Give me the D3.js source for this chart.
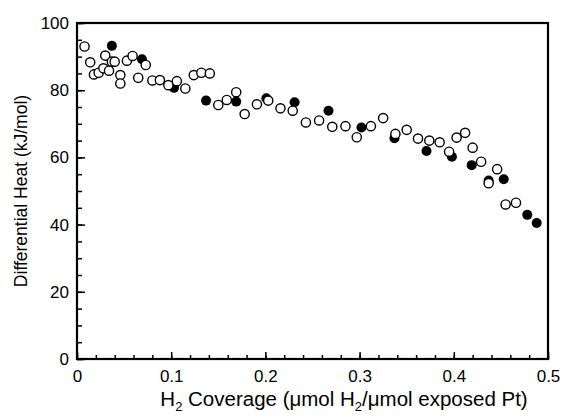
<!DOCTYPE html>
<html>
<head>
<meta charset="utf-8">
<script src="https://cdn.jsdelivr.net/npm/d3@7"></script>
<style>
  html, body { margin: 0; padding: 0; background: #fff; }
  #chart { width: 563px; height: 420px; }
  text { font-family: "Liberation Sans", Arial, sans-serif; fill: #000; }
</style>
</head>
<body>
<div id="chart"></div>
<script>
// Differential heat of H2 adsorption vs coverage — open and filled symbol series.

const openX = [0.008, 0.014, 0.018, 0.023, 0.028, 0.030, 0.034, 0.037, 0.040, 0.046,
               0.046, 0.053, 0.059, 0.065, 0.073, 0.080, 0.088, 0.097, 0.106, 0.115,
               0.124, 0.132, 0.141, 0.150, 0.159, 0.169, 0.178, 0.191, 0.203, 0.216,
               0.229, 0.243, 0.257, 0.271, 0.285, 0.297, 0.312, 0.325, 0.338, 0.350,
               0.362, 0.374, 0.385, 0.395, 0.403, 0.412, 0.420, 0.429, 0.437, 0.446,
               0.455, 0.466];
const openY = [93.0, 88.3, 84.7, 85.2, 86.5, 90.3, 85.8, 88.5, 88.5, 84.5,
               82.0, 88.8, 90.2, 83.7, 87.5, 82.9, 83.0, 81.5, 82.7, 80.5,
               84.5, 85.2, 85.0, 75.6, 77.1, 79.4, 72.9, 75.8, 76.9, 74.6,
               73.9, 70.4, 71.0, 69.1, 69.3, 66.0, 69.3, 71.7, 67.0, 68.2,
               65.6, 65.0, 64.5, 61.7, 65.9, 67.3, 62.9, 58.7, 52.3, 56.5,
               46.0, 46.5];

const filledX = [0.037, 0.069, 0.103, 0.137, 0.169, 0.201, 0.231, 0.267, 0.302,
                 0.337, 0.371, 0.398, 0.419, 0.437, 0.453, 0.478, 0.488];
const filledY = [93.2, 89.2, 80.7, 76.9, 76.6, 77.6, 76.4, 73.9, 68.9,
                 65.7, 61.9, 60.2, 57.7, 53.1, 53.5, 42.9, 40.5];

const xTicks = [0, 0.1, 0.2, 0.3, 0.4, 0.5];
const yTicks = [0, 20, 40, 60, 80, 100];

const W = 563, H = 420;
const margin = { top: 23, right: 15, bottom: 61, left: 77 };
const innerW = W - margin.left - margin.right;
const innerH = H - margin.top - margin.bottom;

const x = d3.scaleLinear().domain([0, 0.5]).range([0, innerW]);
const y = d3.scaleLinear().domain([0, 100]).range([innerH, 0]);

const svg = d3.select("#chart").append("svg")
  .attr("width", W).attr("height", H);

const g = svg.append("g")
  .attr("transform", `translate(${margin.left},${margin.top})`);

// ── Axes (ticks point inward) ──────────────────────────────────────────────

const xMinor = d3.range(0, 0.5001, 0.02);
const yMinor = d3.range(0, 100.01, 5);
const FONT = '"Liberation Sans", Arial, sans-serif';

g.append("g")
  .attr("transform", `translate(0,${innerH})`)
  .call(d3.axisBottom(x).tickValues(xMinor).tickSize(-4).tickFormat(""))
  .call(ax => ax.select(".domain").remove())
  .call(ax => ax.selectAll("line").attr("stroke-width", 1.5));

g.append("g")
  .attr("transform", `translate(0,${innerH})`)
  .call(d3.axisBottom(x).tickValues(xTicks).tickSize(-7).tickPadding(11)
    .tickFormat(d => d === 0 ? "0" : d3.format(".1f")(d)))
  .call(ax => ax.select(".domain").remove())
  .call(ax => ax.selectAll("line").attr("stroke-width", 1.5))
  .call(ax => ax.selectAll("text").style("font-size", "17px").style("font-family", FONT));

g.append("g")
  .call(d3.axisLeft(y).tickValues(yMinor).tickSize(-5).tickFormat(""))
  .call(ax => ax.select(".domain").remove())
  .call(ax => ax.selectAll("line").attr("stroke-width", 1.5));

g.append("g")
  .call(d3.axisLeft(y).tickValues(yTicks).tickSize(-8).tickPadding(8))
  .call(ax => ax.select(".domain").remove())
  .call(ax => ax.selectAll("line").attr("stroke-width", 1.5))
  .call(ax => ax.selectAll("text").style("font-size", "17px").style("font-family", FONT));

// Frame
g.append("rect")
  .attr("width", innerW).attr("height", innerH)
  .attr("fill", "none").attr("stroke", "#000").attr("stroke-width", 2.2);

// ── Points ────────────────────────────────────────────────────────────────

const filled = filledX.map((v, i) => ({ x: v, y: filledY[i] }));
const open   = openX.map((v, i) => ({ x: v, y: openY[i] }));

g.append("g").selectAll("circle")
  .data(filled)
  .join("circle")
    .attr("cx", d => x(d.x)).attr("cy", d => y(d.y))
    .attr("r", 5)
    .attr("fill", "#000");

g.append("g").selectAll("circle")
  .data(open)
  .join("circle")
    .attr("cx", d => x(d.x)).attr("cy", d => y(d.y))
    .attr("r", 4.6)
    .attr("fill", "#fff")
    .attr("stroke", "#000")
    .attr("stroke-width", 1.4);

// ── Axis titles ───────────────────────────────────────────────────────────

const xTitle = svg.append("text")
  .attr("x", 344)
  .attr("y", 406)
  .attr("text-anchor", "middle")
  .style("font-size", "20.5px");
xTitle.append("tspan").text("H");
xTitle.append("tspan").attr("dy", 5).style("font-size", "13px").text("2");
xTitle.append("tspan").attr("dy", -5).text(" Coverage (\u03bcmol H");
xTitle.append("tspan").attr("dy", 5).style("font-size", "13px").text("2");
xTitle.append("tspan").attr("dy", -5).text("/\u03bcmol exposed Pt)");

svg.append("text")
  .attr("transform", `translate(27,${margin.top + innerH / 2}) rotate(-90)`)
  .attr("text-anchor", "middle")
  .style("font-size", "17.5px")
  .text("Differential Heat (kJ/mol)");
</script>
</body>
</html>
